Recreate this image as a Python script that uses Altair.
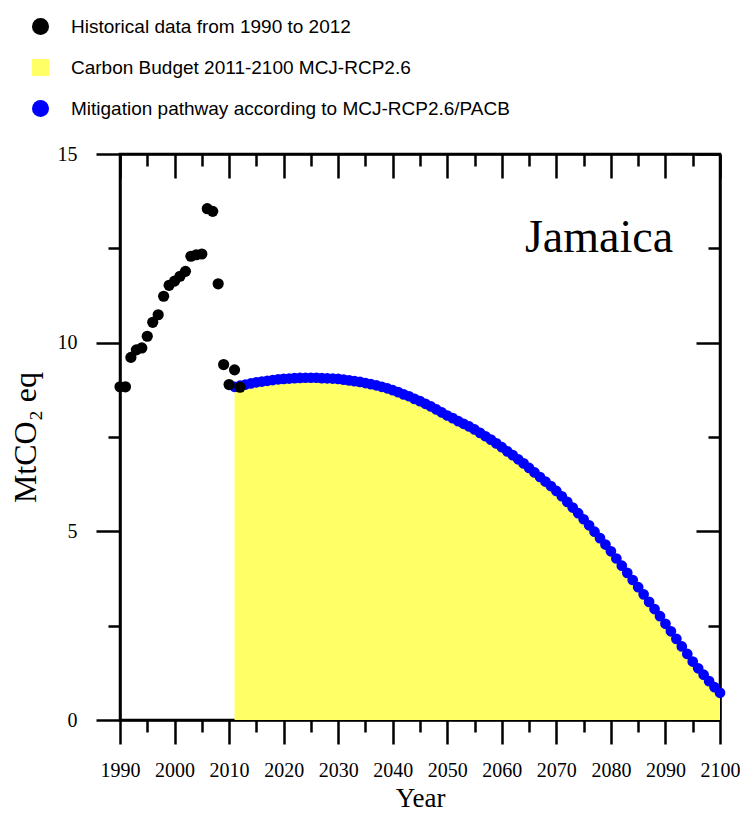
import altair as alt
import pandas as pd

# ---------------- data ----------------
hist_years = list(range(1990, 2013))
hist_values = [8.83, 8.83, 9.61, 9.81, 9.86, 10.17, 10.54, 10.74, 11.23, 11.52,
               11.63, 11.76, 11.89, 12.29, 12.33, 12.35, 13.55, 13.48, 11.56, 9.42,
               8.89, 9.28, 8.82]

path_years = list(range(2011, 2101))
path_values = [8.83, 8.86, 8.89, 8.92, 8.95, 8.97, 8.99, 9.01, 9.03, 9.04,
               9.05, 9.06, 9.065, 9.07, 9.07, 9.07, 9.06, 9.055, 9.05, 9.04,
               9.02, 9.00, 8.98, 8.96, 8.93, 8.90, 8.87, 8.83, 8.79, 8.74,
               8.69, 8.63, 8.58, 8.51, 8.45, 8.38, 8.31, 8.23, 8.15, 8.07,
               8.00, 7.92, 7.85, 7.78, 7.70, 7.61, 7.52, 7.43, 7.33, 7.23,
               7.12, 7.02, 6.91, 6.80, 6.68, 6.56, 6.44, 6.32, 6.20, 6.07,
               5.93, 5.78, 5.63, 5.48, 5.32, 5.16, 4.99, 4.82, 4.65, 4.47,
               4.28, 4.09, 3.90, 3.71, 3.52, 3.33, 3.13, 2.94, 2.75, 2.55,
               2.35, 2.15, 1.95, 1.75, 1.55, 1.37, 1.20, 1.03, 0.87, 0.72]

series_labels = ["Historical data from 1990 to 2012",
                 "Carbon Budget 2011-2100 MCJ-RCP2.6",
                 "Mitigation pathway according to MCJ-RCP2.6/PACB"]
series_colors = ["#000000", "#FFFF66", "#0000FF"]
series_shapes = ["circle", "square", "circle"]

x_ticks = list(range(1990, 2101, 5))
y_ticks = [0, 2.5, 5, 7.5, 10, 12.5, 15]
country = "Jamaica"
x_title = "Year"
y_title = "MtCO\u2082 eq"

# ---------------- tables ----------------
hist_df = pd.DataFrame({"year": hist_years, "value": hist_values, "series": series_labels[0]})
budget_df = pd.DataFrame({"year": path_years, "value": path_values, "series": series_labels[1]})
path_df = pd.DataFrame({"year": path_years, "value": path_values, "series": series_labels[2]})
label_df = pd.DataFrame({"label": [country]})

W, H = 600, 566
xscale = alt.Scale(domain=[1990, 2100], nice=False, zero=False)
yscale = alt.Scale(domain=[0, 15], nice=False, zero=True)

x_major = {"condition": {"test": "datum.value % 10 === 0", "value": 24}, "value": 12}
y_major = {"condition": {"test": "datum.value % 5 === 0", "value": 24}, "value": 12}

legend = alt.Legend(orient="none", legendX=-89, legendY=-137, direction="vertical",
                    title=None, labelFont="Liberation Sans", labelFontSize=19,
                    labelColor="black", labelLimit=600, symbolSize=290,
                    rowPadding=21, labelOffset=21, symbolStrokeWidth=0,
                    symbolOpacity=1, padding=0)
color = alt.Color("series:N", scale=alt.Scale(domain=series_labels, range=series_colors), legend=legend)
shape = alt.Shape("series:N", scale=alt.Scale(domain=series_labels, range=series_shapes), legend=legend)

# bottom / left axes (outward ticks, labels)
area = alt.Chart(budget_df).mark_area(opacity=1, interpolate="linear").encode(
    x=alt.X("year:Q", scale=xscale, title=x_title,
            axis=alt.Axis(orient="bottom", values=x_ticks, format="d", tickSize=x_major,
                          labelExpr="datum.value % 10 === 0 ? datum.label : ''",
                          labelOverlap=False, labelFlush=False,
                          labelPadding=16, titleY=86, titleBaseline="alphabetic",
                          titleFontSize=27)),
    y=alt.Y("value:Q", scale=yscale, title=y_title,
            axis=alt.Axis(orient="left", values=y_ticks, tickSize=y_major,
                          labelExpr="datum.value % 5 === 0 ? datum.label : ''",
                          labelOverlap=False, labelFlush=False,
                          labelPadding=19, titleX=-85, titleBaseline="alphabetic",
                          titleFontSize=32)),
    color=color,
)

# top / right axes (inward ticks)
blue = alt.Chart(path_df).mark_point(filled=True, size=115, opacity=1, strokeWidth=0).encode(
    x=alt.X("year:Q", scale=xscale, title=None,
            axis=alt.Axis(orient="bottom", offset=-H, values=x_ticks, tickSize=x_major,
                          labels=False, title=None)),
    y=alt.Y("value:Q", scale=yscale, title=None,
            axis=alt.Axis(orient="left", offset=-W, values=y_ticks, tickSize=y_major,
                          labels=False, title=None)),
    color=color,
    shape=shape,
)

black = alt.Chart(hist_df).mark_point(filled=True, size=125, opacity=1, strokeWidth=0).encode(
    x=alt.X("year:Q", scale=xscale, axis=None),
    y=alt.Y("value:Q", scale=yscale, axis=None),
    color=color,
    shape=shape,
)

label = alt.Chart(label_df).mark_text(font="Liberation Serif", fontSize=46, align="center",
                                      baseline="alphabetic", color="black").encode(
    text="label:N", x=alt.value(479), y=alt.value(98))

chart = alt.layer(area, blue, black, label).resolve_axis(
    x="independent", y="independent"
).properties(
    width=W, height=H,
    autosize=alt.AutoSizeParams(type="none"),
    padding={"left": 112, "top": 146, "right": 20, "bottom": 92},
    background="white",
).configure_view(stroke="black", strokeWidth=2.5).configure_axis(
    grid=False, domainColor="black", domainWidth=2.5, tickColor="black", tickWidth=2.5,
    labelColor="black", labelFont="Liberation Serif", labelFontSize=20,
    titleColor="black", titleFont="Liberation Serif", titleFontSize=30,
    titleFontWeight="normal",
)

chart.save("out.html", embed_options={"renderer": "svg", "actions": False})
